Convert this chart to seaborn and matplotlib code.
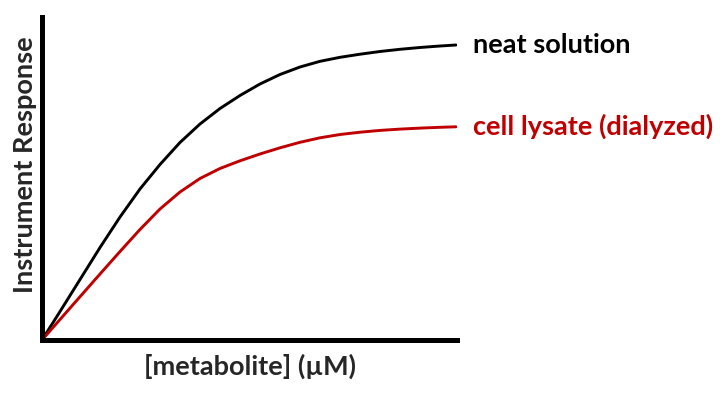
import numpy as np
import pandas as pd
import seaborn as sns
import matplotlib.pyplot as plt

# values (arbitrary units)
conc = [0, 4.34, 9.16, 13.98, 18.80, 23.61, 28.43, 33.25, 38.07, 42.89,
        47.71, 52.53, 57.35, 62.17, 66.99, 71.81, 76.63, 81.45, 86.27,
        91.08, 95.90, 99.76]
neat = [0, 8.82, 18.73, 28.64, 38.08, 46.75, 54.33, 61.15, 66.87, 71.67,
        75.70, 79.26, 82.20, 84.52, 86.28, 87.52, 88.48, 89.32, 90.00,
        90.56, 91.02, 91.33]
lysate = [0, 6.35, 13.41, 20.43, 27.40, 34.21, 40.56, 45.82, 50.00, 53.10,
          55.48, 57.59, 59.50, 61.21, 62.60, 63.62, 64.33, 64.89, 65.29,
          65.60, 65.85, 66.01]
series_names = ["neat solution", "cell lysate (dialyzed)"]
series_colors = ["#000000", "#C00000"]

df = pd.DataFrame({
    "conc": conc * 2,
    "resp": neat + lysate,
    "sample": [series_names[0]] * len(conc) + [series_names[1]] * len(conc),
})

sns.set_style("white")
plt.rcParams["font.family"] = ["Lato", "DejaVu Sans"]

fig = plt.figure(figsize=(7.2, 3.96), dpi=100)
ax = fig.add_axes([42 / 720, 56 / 396, 415 / 720, 323 / 396])

sns.lineplot(data=df, x="conc", y="resp", hue="sample", palette=series_colors,
             hue_order=series_names, linewidth=2.1, legend=False, ax=ax)
for ln in ax.lines:
    ln.set_solid_joinstyle("round")

ax.set_xlim(0, 100)
ax.set_ylim(0, 100)
ax.set_xticks([])
ax.set_yticks([])
ax.set_xlabel("")
ax.set_ylabel("")
sns.despine(ax=ax)
for side in ["left", "bottom"]:
    ax.spines[side].set_linewidth(3.6)
    ax.spines[side].set_color("black")

ends = [neat[-1], lysate[-1]]
for name, col, yv in zip(series_names, series_colors, ends):
    ax.text(103.8, yv, name, color=col, fontsize=19.5, fontweight="bold",
            va="center", ha="left", clip_on=False)

fig.text(250 / 720, 1 - 366 / 396, "[metabolite] (\u00b5M)", fontsize=19.5,
         fontweight="bold", ha="center", va="center")
fig.text(25 / 720, 1 - 165 / 396, "Instrument Response", fontsize=19.5,
         fontweight="bold", ha="center", va="center", rotation=90)

fig.savefig("out.png", dpi=100)
